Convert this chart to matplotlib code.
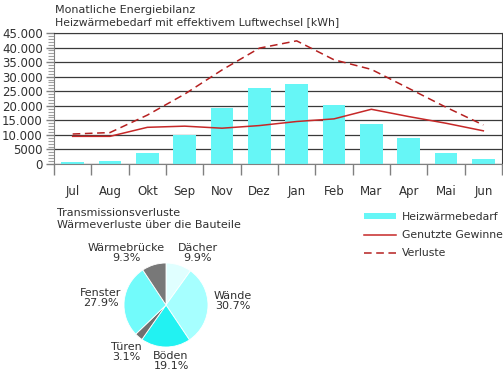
import matplotlib
matplotlib.use('Agg')
import matplotlib.pyplot as plt
from matplotlib.ticker import FixedLocator, MultipleLocator, FuncFormatter
import numpy as np

# Monatliche Energiebilanz
months = ['Jul', 'Aug', 'Okt', 'Sep', 'Nov', 'Dez', 'Jan', 'Feb', 'Mar', 'Apr', 'Mai', 'Jun']
heizwaerme = [800, 1000, 3700, 10000, 19400, 26000, 27500, 20300, 13600, 9000, 3900, 1700]
gewinne = [9500, 9500, 12600, 13000, 12300, 13200, 14600, 15500, 18800, 16300, 14000, 11400]
verluste = [10300, 10800, 16800, 24000, 32300, 39800, 42300, 35800, 32500, 26000, 19500, 13400]

# Transmissionsverluste
parts = ['Dächer', 'Wände', 'Böden', 'Türen', 'Fenster', 'Wärmebrücke']
shares = [9.9, 30.7, 19.1, 3.1, 27.9, 9.3]
part_colors = ['#e0ffff', '#a6ffff', '#22f2f2', '#707070', '#72fbfb', '#787878']

text_col = '#303030'
plt.rcParams['font.family'] = ['DejaVu Sans']
plt.rcParams['font.size'] = 8

fig = plt.figure(figsize=(5.03, 3.76), dpi=100)

ax = fig.add_axes([54/503, 1-164/376, 448/503, 131/376])
x = np.arange(len(months))
bars = ax.bar(x, heizwaerme, width=0.6, color='#66f6f6', zorder=2)
l1, = ax.plot(x, gewinne, color='#c62828', lw=1.1, zorder=3)
l2, = ax.plot(x, verluste, color='#b52020', lw=1.1, ls=(0, (5, 3)), zorder=3)

ax.set_xlim(-0.5, len(months) - 0.5)
ax.set_ylim(0, 45000)
ax.yaxis.set_major_locator(MultipleLocator(5000))
ax.yaxis.set_minor_locator(MultipleLocator(1000))
ax.yaxis.set_major_formatter(FuncFormatter(
    lambda v, p: f'{int(v):,}'.replace(',', '.') if v >= 10000 else f'{int(v)}'))
ax.grid(axis='y', color='#3a3a3a', lw=0.9, zorder=1)
ax.xaxis.set_major_locator(FixedLocator(np.arange(-0.5, len(months), 1.0)))
ax.xaxis.set_major_formatter(FuncFormatter(lambda v, p: ''))
ax.xaxis.set_minor_locator(FixedLocator(x))
ax.set_xticklabels(months, minor=True)
ax.tick_params(axis='x', which='major', length=8, width=1, color='#808080')
ax.tick_params(axis='x', which='minor', length=0, pad=15, labelsize=8.5, labelcolor=text_col)
ax.tick_params(axis='y', which='major', length=6, width=1, color='#808080',
               labelsize=8.5, labelcolor=text_col, pad=2)
ax.tick_params(axis='y', which='minor', length=4, width=0.8, color='#a0a0a0')
for s in ['left', 'bottom']:
    ax.spines[s].set_color('#808080')
for s in ['top', 'right']:
    ax.spines[s].set_color('#3a3a3a')

fig.text(55/503, 1-10/376, 'Monatliche Energiebilanz', fontsize=8, color=text_col, va='center')
fig.text(55/503, 1-22/376, 'Heizwärmebedarf mit effektivem Luftwechsel [kWh]', fontsize=7.8,
         color=text_col, va='center')

# Legende
leg = fig.legend([bars, l1, l2], ['Heizwärmebedarf', 'Genutzte Gewinne', 'Verluste'],
                 loc='upper left', bbox_to_anchor=(354/503, 1-202/376),
                 frameon=False, fontsize=7.8, handlelength=3.0, labelspacing=0.75,
                 handletextpad=0.5, handleheight=0.4)
for t in leg.get_texts():
    t.set_color(text_col)

# Kreisdiagramm
fig.text(57/503, 1-213/376, 'Transmissionsverluste', fontsize=8, color=text_col, va='center')
fig.text(57/503, 1-225/376, 'Wärmeverluste über die Bauteile', fontsize=8, color=text_col, va='center')
r = 42
axp = fig.add_axes([(166-r)/503, 1-(305+r)/376, 2*r/503, 2*r/376])
wedges, _ = axp.pie(shares, colors=part_colors, startangle=90, counterclock=False,
                    wedgeprops=dict(edgecolor='white', linewidth=0.6))
axp.set_xlim(-1, 1)
axp.set_ylim(-1, 1)
label_pos = [(0.76, 1.24), (1.6, 0.1), (0.12, -1.33), (-0.95, -1.12), (-1.55, 0.17), (-0.95, 1.24)]
for name, val, (lx, ly) in zip(parts, shares, label_pos):
    axp.text(lx, ly, f'{name}\n{val:.1f}%', ha='center', va='center', fontsize=8,
             color=text_col, linespacing=1.0, clip_on=False)

fig.savefig('out.png', dpi=100)
